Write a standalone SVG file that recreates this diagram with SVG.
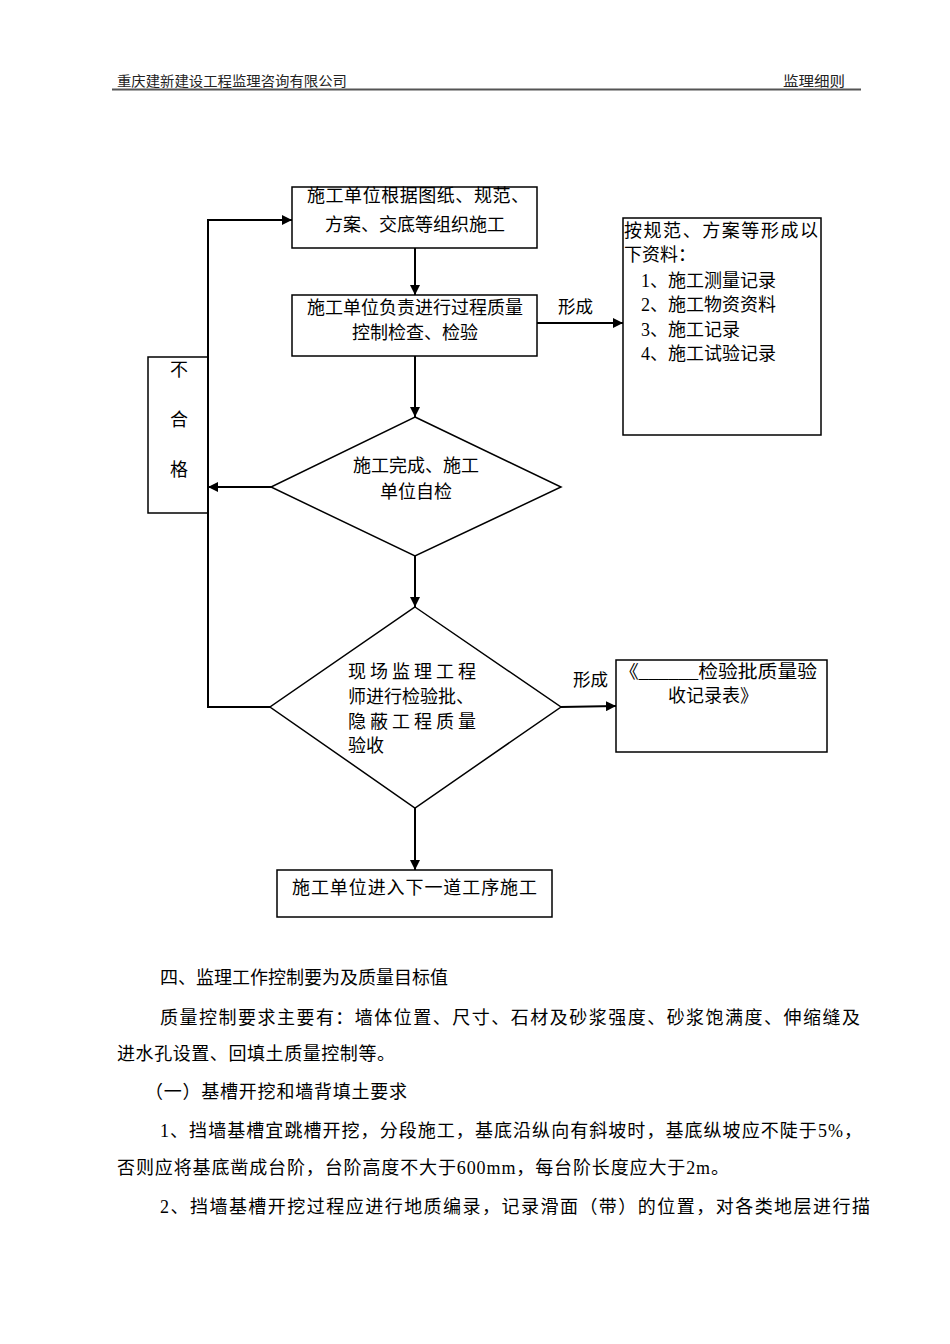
<svg xmlns="http://www.w3.org/2000/svg" width="950" height="1344" viewBox="0 0 950 1344">
<style>
text{font-family:"Liberation Serif","Noto Sans CJK SC",serif;fill:#000}
.t{font-size:17.5px}
.h{font-size:13.5px;fill:#222}
.b{font-size:18px}
.shape{fill:none;stroke:#000;stroke-width:1.5}
.c{fill:none;stroke:#000;stroke-width:2}
</style>
<defs>
<marker id="ah" viewBox="0 0 10 10" refX="10" refY="5" markerWidth="5" markerHeight="5" orient="auto" markerUnits="strokeWidth">
<path d="M0,0 L10,5 L0,10 z" fill="#000"/>
</marker>
</defs>
<rect width="950" height="1344" fill="#fff"/>
<g id="header">
<text class="h" x="117" y="86" textLength="230" lengthAdjust="spacingAndGlyphs">重庆建新建设工程监理咨询有限公司</text>
<text class="h" x="783" y="86" textLength="62" lengthAdjust="spacingAndGlyphs">监理细则</text>
<line x1="112" y1="89.5" x2="861" y2="89.5" stroke="#555" stroke-width="2"/>
</g>
<g id="connectors">
<line class="c" x1="415" y1="248" x2="415" y2="295" marker-end="url(#ah)"/>
<line class="c" x1="415" y1="356" x2="415" y2="417" marker-end="url(#ah)"/>
<line class="c" x1="537" y1="323" x2="623" y2="323" marker-end="url(#ah)"/>
<line class="c" x1="271" y1="487" x2="208" y2="487" marker-end="url(#ah)"/>
<polyline class="c" points="270,707 208,707 208,220 292,220" marker-end="url(#ah)"/>
<line class="c" x1="415" y1="556" x2="415" y2="607" marker-end="url(#ah)"/>
<line class="c" x1="561" y1="707" x2="616" y2="706" marker-end="url(#ah)"/>
<line class="c" x1="415" y1="808" x2="415" y2="870" marker-end="url(#ah)"/>
<text class="t" x="558" y="313">形成</text>
<text class="t" x="573" y="686">形成</text>
</g>
<g id="box1">
<rect class="shape" x="292" y="187" width="245" height="61"/>
<text class="b" x="307" y="202" textLength="222" lengthAdjust="spacing">施工单位根据图纸、规范、</text>
<text class="b" x="415" y="231" text-anchor="middle">方案、交底等组织施工</text>
</g>
<g id="box2">
<rect class="shape" x="292" y="295" width="245" height="61"/>
<text class="b" x="415" y="314" text-anchor="middle">施工单位负责进行过程质量</text>
<text class="b" x="415" y="339" text-anchor="middle">控制检查、检验</text>
</g>
<g id="records">
<rect class="shape" x="623" y="218" width="198" height="217"/>
<text class="b" x="624" y="237" textLength="194" lengthAdjust="spacing">按规范、方案等形成以</text>
<text class="b" x="624" y="261">下资料：</text>
<text class="b" x="641" y="287">1、施工测量记录</text>
<text class="b" x="641" y="311">2、施工物资资料</text>
<text class="b" x="641" y="336">3、施工记录</text>
<text class="b" x="641" y="360">4、施工试验记录</text>
</g>
<g id="reject">
<rect class="shape" x="148" y="357" width="60" height="156"/>
<text class="b" x="179" y="376" text-anchor="middle">不</text>
<text class="b" x="179" y="426" text-anchor="middle">合</text>
<text class="b" x="179" y="476" text-anchor="middle">格</text>
</g>
<g id="selfcheck">
<polygon class="shape" points="415,417 561,487 415,556 271,487"/>
<text class="b" x="416" y="472" text-anchor="middle">施工完成、施工</text>
<text class="b" x="416" y="498" text-anchor="middle">单位自检</text>
</g>
<g id="inspect">
<polygon class="shape" points="415,607 561,707 415,808 270,707"/>
<text class="b" x="348" y="678" textLength="128" lengthAdjust="spacing">现场监理工程</text>
<text class="b" x="348" y="703">师进行检验批、</text>
<text class="b" x="348" y="728" textLength="128" lengthAdjust="spacing">隐蔽工程质量</text>
<text class="b" x="348" y="752">验收</text>
</g>
<g id="form">
<rect class="shape" x="616" y="660" width="211" height="92"/>
<text class="b" x="619" y="678" textLength="198" lengthAdjust="spacingAndGlyphs">《______检验批质量验</text>
<text class="b" x="668" y="702">收记录表》</text>
</g>
<g id="next">
<rect class="shape" x="277" y="870" width="275" height="47"/>
<text class="b" x="292" y="894" textLength="245" lengthAdjust="spacing">施工单位进入下一道工序施工</text>
</g>
<g id="body">
<text class="b" x="160" y="984">四、监理工作控制要为及质量目标值</text>
<text class="b" x="160" y="1024" textLength="700" lengthAdjust="spacing">质量控制要求主要有：墙体位置、尺寸、石材及砂浆强度、砂浆饱满度、伸缩缝及</text>
<text class="b" x="117" y="1060" textLength="278" lengthAdjust="spacing">进水孔设置、回填土质量控制等。</text>
<text class="b" x="145" y="1098" textLength="262" lengthAdjust="spacing">（一）基槽开挖和墙背填土要求</text>
<text class="b" x="160" y="1137" textLength="702" lengthAdjust="spacing">1、挡墙基槽宜跳槽开挖，分段施工，基底沿纵向有斜坡时，基底纵坡应不陡于5%，</text>
<text class="b" x="117" y="1174" textLength="612" lengthAdjust="spacing">否则应将基底凿成台阶，台阶高度不大于600mm，每台阶长度应大于2m。</text>
<text class="b" x="160" y="1213" textLength="710" lengthAdjust="spacing">2、挡墙基槽开挖过程应进行地质编录，记录滑面（带）的位置，对各类地层进行描</text>
</g>
</svg>
